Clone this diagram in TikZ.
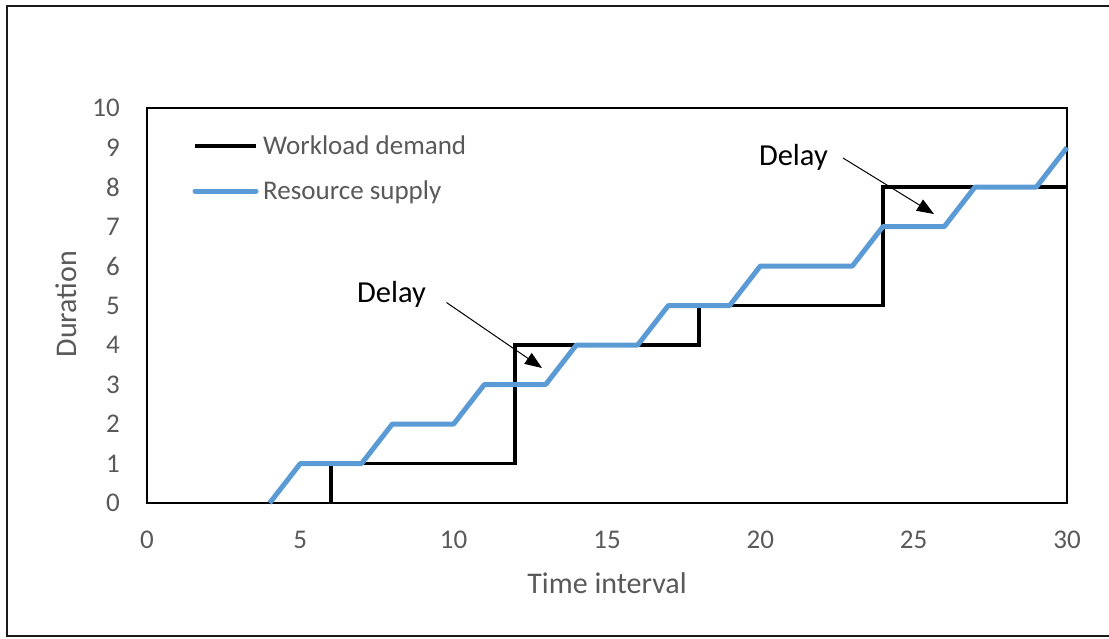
\documentclass[tikz,border=0pt]{standalone}
\usepackage{fontspec}
\setmainfont{Carlito}
\usetikzlibrary{arrows.meta}
\definecolor{supply}{HTML}{5B9BD5}
\definecolor{axisgrey}{HTML}{595959}
\definecolor{framegrey}{HTML}{1A1A1A}
\begin{document}
\begin{tikzpicture}[x=1pt,y=-1pt,
  ticklbl/.style={text=axisgrey,font=\fontsize{27}{30}\selectfont,inner sep=0pt},
  axtitle/.style={text=axisgrey,font=\fontsize{30}{34}\selectfont,inner sep=0pt},
  legtext/.style={text=axisgrey,font=\fontsize{27}{30}\selectfont,inner sep=0pt,anchor=base west},
  delaytext/.style={text=black,font=\fontsize{30.5}{34}\selectfont,inner sep=0pt},
  demand/.style={black,line width=3.2pt,line join=miter},
  supplyline/.style={supply,line width=5pt,line join=round},
  delayarrow/.style={black,line width=1pt,-{Triangle[length=17pt,width=13pt]}}]
\useasboundingbox (0,0) rectangle (1109,638);
% outer frame (right side runs off the page)
\draw[framegrey,line width=2pt] (1125,6) -- (7,6) -- (7,636) -- (1125,636);

\begin{scope}[shift={(147,503)},x=30.6667pt,y=39.5pt]
  % plot area frame
  \draw[black,line width=2.2pt] (0,0) rectangle (30,10);
  % y tick labels
  \foreach \v in {0,...,10}{
    \node[ticklbl,anchor=east] (yt\v) at ([xshift=-27pt]0,\v) {\v};
  }
  % x tick labels
  \foreach \v in {0,5,...,30}{
    \node[ticklbl,anchor=center] (xt\v) at ([yshift=-37pt]\v,0) {\v};
  }
  % workload demand
  \draw[demand] (6,0) -- (6,1) -- (12,1) -- (12,4) -- (18,4) -- (18,5)
    -- (24,5) -- (24,8) -- (30,8);
  % resource supply
  \draw[supplyline] (4,0) -- (5,1) -- (7,1) -- (8,2) -- (10,2) -- (11,3)
    -- (13,3) -- (14,4) -- (16,4) -- (17,5) -- (19,5) -- (20,6) -- (23,6)
    -- (24,7) -- (26,7) -- (27,8) -- (29,8) -- (30,9);
\end{scope}

% axis titles
\node[axtitle,anchor=base] (xtitle) at (607,593) {Time interval};
\node[axtitle,rotate=90] (ytitle) at (66,304) {Duration};

% legend
\coordinate (lg1a) at (195,146);
\coordinate (lg1b) at (256,146);
\coordinate (lg2a) at (195,191);
\coordinate (lg2b) at (256,191);
\draw[demand] (lg1a) -- (lg1b);
\draw[supplyline,line cap=round] (lg2a) -- (lg2b);
\node[legtext] (leg1) at (263,154) {Workload demand};
\node[legtext] (leg2) at (263,199) {Resource supply};

% delay annotations
\node[delaytext,anchor=base west] (delay1) at (357,302) {Delay};
\node[delaytext,anchor=base east] (delay2) at (828,165) {Delay};
\coordinate (d1s) at (446.5,302.5);
\coordinate (d1e) at (542,368);
\coordinate (d2s) at (843,158);
\coordinate (d2e) at (934,214);
\draw[delayarrow] (d1s) -- (d1e);
\draw[delayarrow] (d2s) -- (d2e);
\end{tikzpicture}
\end{document}
